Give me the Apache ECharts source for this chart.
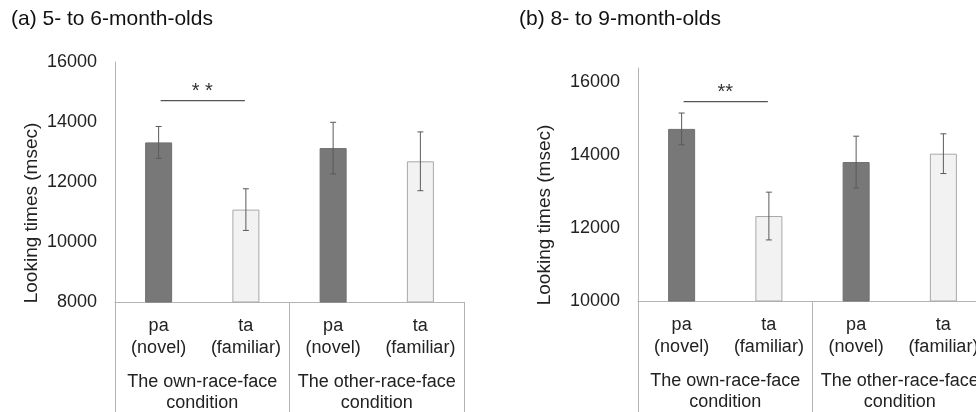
<!DOCTYPE html>
<html>
<head>
<meta charset="utf-8">
<script src="https://cdn.jsdelivr.net/npm/echarts@6/dist/echarts.min.js"></script>
<style>html,body{margin:0;padding:0;background:#fff;}#c{width:976px;height:412px;}</style>
</head>
<body>
<div id="c"></div>
<script>
// ---- data ----
var categories = ['pa\n(novel)', 'ta\n(familiar)', 'pa\n(novel)', 'ta\n(familiar)'];
var groups = ['The own-race-face\ncondition', 'The other-race-face\ncondition'];
var meansA = [13320, 11080, 13130, 12690];
var errA = [530, 695, 860, 980];
var meansB = [14720, 12330, 13810, 14040];
var errB = [435, 655, 710, 545];
var sigA = [0, 1, 14710, '* *'];
var sigB = [0, 1, 15470, '**'];
var ticksA = [8000, 10000, 12000, 14000, 16000];
var ticksB = [10000, 12000, 14000, 16000];

// ---- styles ----
var FONT = 'Liberation Sans, Arial, sans-serif';
var AX = '#b4b4b4';
var TXT = '#222';
var DARK = '#787878';
var LIGHT = '#f2f2f2';

function barData(means) {
  return means.map(function (v, i) {
    return {
      value: v,
      itemStyle: i % 2 === 0
        ? { color: DARK, borderColor: '#6e6e6e', borderWidth: 1 }
        : { color: LIGHT, borderColor: '#a8a8a8', borderWidth: 1 }
    };
  });
}
function errData(means, errs) {
  return means.map(function (v, i) { return [i, v - errs[i], v + errs[i]]; });
}
function errSeries(xi, yi, means, errs) {
  return {
    type: 'custom', xAxisIndex: xi, yAxisIndex: yi, z: 5,
    data: errData(means, errs),
    renderItem: function (params, api) {
      var lo = api.coord([api.value(0), api.value(1)]);
      var hi = api.coord([api.value(0), api.value(2)]);
      var s = { stroke: '#5a5a5a', lineWidth: 1 };
      var w = 3;
      return { type: 'group', children: [
        { type: 'line', shape: { x1: hi[0], y1: hi[1], x2: lo[0], y2: lo[1] }, style: s },
        { type: 'line', shape: { x1: hi[0] - w, y1: hi[1], x2: hi[0] + w, y2: hi[1] }, style: s },
        { type: 'line', shape: { x1: lo[0] - w, y1: lo[1], x2: lo[0] + w, y2: lo[1] }, style: s }
      ]};
    }
  };
}
function sigSeries(xi, yi, sig) {
  return {
    type: 'custom', xAxisIndex: xi, yAxisIndex: yi, z: 5,
    data: [sig],
    renderItem: function (params, api) {
      var a = api.coord([api.value(0), api.value(2)]);
      var b = api.coord([api.value(1), api.value(2)]);
      return { type: 'group', children: [
        { type: 'line', shape: { x1: a[0] + 2, y1: a[1], x2: b[0] - 1, y2: b[1] }, style: { stroke: '#555', lineWidth: 1.2 } },
        { type: 'text', style: { text: sig[3], x: (a[0] + b[0]) / 2, y: a[1] + 1, align: 'center', verticalAlign: 'bottom', font: '20px ' + FONT, fill: '#333' } }
      ]};
    }
  };
}
function catAxis(gi) {
  return {
    type: 'category', gridIndex: gi, data: categories, position: 'bottom',
    axisLine: { lineStyle: { color: AX, width: 1 } },
    axisTick: { show: false },
    axisLabel: { interval: 0, margin: 13, color: TXT, fontSize: 18, lineHeight: 22, fontFamily: FONT }
  };
}
function groupAxis(gi) {
  return {
    type: 'category', gridIndex: gi, data: groups, position: 'bottom',
    axisLine: { show: false },
    axisTick: { show: true, alignWithLabel: false, interval: 0, length: 112, lineStyle: { color: AX, width: 1 } },
    axisLabel: { interval: 0, margin: 70, color: TXT, fontSize: 18, lineHeight: 21, fontFamily: FONT }
  };
}
function valAxis(gi, ticks, max) {
  return {
    type: 'value', gridIndex: gi, min: ticks[0], max: max, interval: 2000,
    axisLine: { show: true, lineStyle: { color: AX, width: 1 } },
    axisTick: { show: false },
    splitLine: { show: false },
    axisLabel: {
      margin: 18, color: TXT, fontSize: 18, fontFamily: FONT,
      formatter: function (v) { return ticks.indexOf(v) >= 0 ? String(v) : ''; }
    }
  };
}

var chart = echarts.init(document.getElementById('c'), null, { renderer: 'canvas' });
chart.setOption({
  animation: false,
  backgroundColor: '#fff',
  textStyle: { fontFamily: FONT },
  title: [
    { text: '(a) 5- to 6-month-olds', left: 11, top: 9, padding: 0, textStyle: { fontSize: 21, fontWeight: 'normal', color: '#111', fontFamily: FONT } },
    { text: '(b) 8- to 9-month-olds', left: 519, top: 9, padding: 0, textStyle: { fontSize: 21, fontWeight: 'normal', color: '#111', fontFamily: FONT } }
  ],
  grid: [
    { left: 115, top: 62, width: 349, height: 240, containLabel: false, outerBoundsMode: 'none' },
    { left: 638, top: 68, width: 349, height: 233, containLabel: false, outerBoundsMode: 'none' }
  ],
  xAxis: [catAxis(0), groupAxis(0), catAxis(1), groupAxis(1)],
  yAxis: [valAxis(0, ticksA, 16000), valAxis(1, ticksB, 16390)],
  graphic: [
    { type: 'text', x: 32, y: 213, rotation: Math.PI / 2, style: { text: 'Looking times (msec)', align: 'center', verticalAlign: 'middle', font: '19px ' + FONT, fill: TXT } },
    { type: 'text', x: 545, y: 215, rotation: Math.PI / 2, style: { text: 'Looking times (msec)', align: 'center', verticalAlign: 'middle', font: '19px ' + FONT, fill: TXT } }
  ],
  series: [
    { type: 'bar', xAxisIndex: 0, yAxisIndex: 0, barWidth: 27, data: barData(meansA) },
    errSeries(0, 0, meansA, errA),
    sigSeries(0, 0, sigA),
    { type: 'bar', xAxisIndex: 2, yAxisIndex: 1, barWidth: 27, data: barData(meansB) },
    errSeries(2, 1, meansB, errB),
    sigSeries(2, 1, sigB)
  ]
});
</script>
</body>
</html>
